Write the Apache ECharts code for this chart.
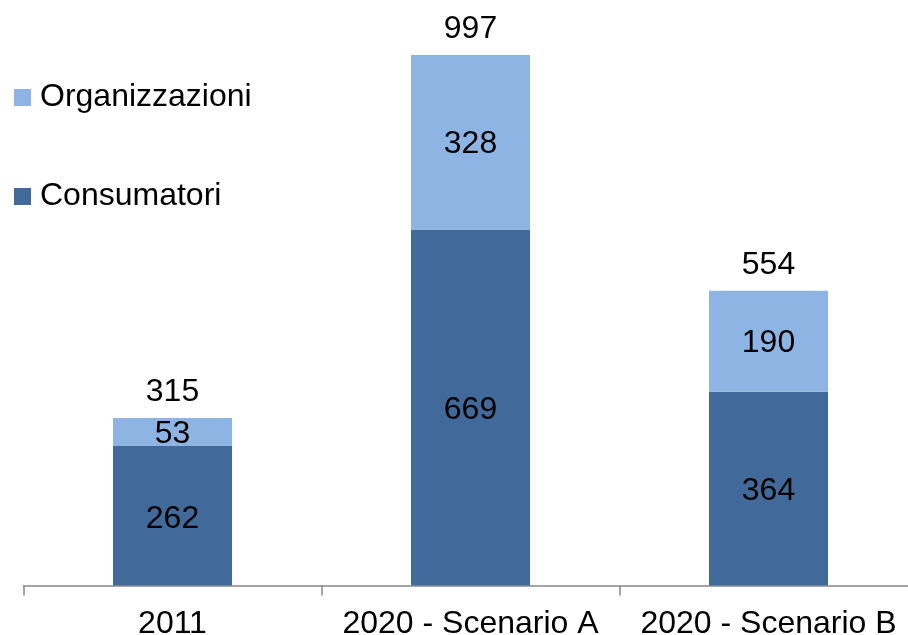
<!DOCTYPE html>
<html>
<head>
<meta charset="utf-8">
<script src="https://cdn.jsdelivr.net/npm/echarts@6/dist/echarts.min.js"></script>
<style>
  html, body { margin: 0; padding: 0; background: #fff; }
  #chart { width: 908px; height: 635px; }
</style>
</head>
<body>
<div id="chart"></div>
<script>
const categories = ['2011', '2020 - Scenario A', '2020 - Scenario B']
const consumatori = [262, 669, 364]
const organizzazioni = [53, 328, 190]
const totals = [315, 997, 554]

const chart = echarts.init(document.getElementById('chart'))

const font = 'Liberation Sans, Arial, sans-serif'

const option = {
  animation: false,
  textStyle: { fontFamily: font },
  legend: {
    orient: 'vertical',
    left: 14,
    top: 80,
    padding: 0,
    itemGap: 64,
    itemWidth: 17,
    itemHeight: 17,
    icon: 'rect',
    data: ['Organizzazioni', 'Consumatori'],
    textStyle: {
      fontSize: 32,
      lineHeight: 32,
      color: '#000',
      fontFamily: font,
      padding: [3, 0, 0, 4]
    }
  },
  grid: {
    left: 23.5,
    width: 894,
    top: 55,
    bottom: 49.5,
    outerBoundsMode: 'none',
    containLabel: false
  },
  xAxis: {
    type: 'category',
    data: categories,
    axisLine: { lineStyle: { color: '#868686', width: 1.5 } },
    axisTick: { show: true, length: 10, lineStyle: { color: '#868686', width: 1.5 } },
    axisLabel: {
      fontSize: 32,
      color: '#000',
      fontFamily: font,
      margin: 23,
      interval: 0
    }
  },
  yAxis: {
    type: 'value',
    min: 0,
    max: 997,
    show: false
  },
  series: [
    {
      name: 'Consumatori',
      type: 'bar',
      stack: 'tot',
      barWidth: 119,
      data: consumatori,
      itemStyle: { color: '#41699A' },
      label: {
        show: true,
        position: 'inside',
        offset: [0, 3],
        fontSize: 32,
        color: '#000',
        fontFamily: font
      }
    },
    {
      name: 'Organizzazioni',
      type: 'bar',
      stack: 'tot',
      barWidth: 119,
      data: organizzazioni,
      itemStyle: { color: '#8EB4E3' },
      label: {
        show: true,
        position: 'inside',
        offset: [0, 2],
        fontSize: 32,
        color: '#000',
        fontFamily: font
      }
    },
    {
      name: 'Totale',
      type: 'bar',
      stack: 'tot',
      barWidth: 119,
      data: totals.map(() => 0),
      itemStyle: { color: 'transparent' },
      label: {
        show: true,
        position: 'top',
        distance: 10,
        fontSize: 32,
        color: '#000',
        fontFamily: font,
        formatter: (p) => totals[p.dataIndex]
      }
    }
  ]
}

chart.setOption(option)
</script>
</body>
</html>
